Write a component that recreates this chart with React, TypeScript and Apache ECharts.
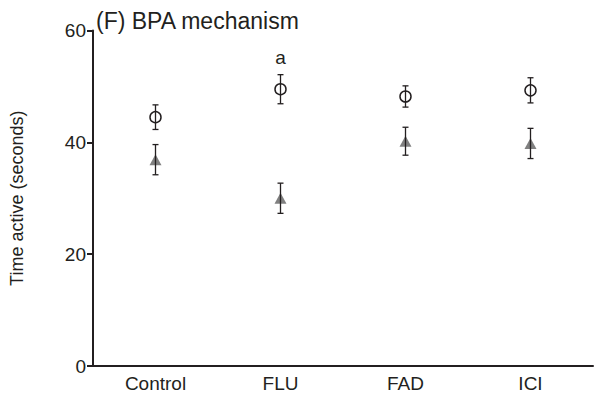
import React, { useEffect, useRef } from "react";
import * as echarts from "echarts";

// Groups on the x axis
const categories = ["Control", "FLU", "FAD", "ICI"];
// Open circles: mean and SEM (seconds)
const circleMean = [44.5, 49.5, 48.2, 49.3];
const circleSem = [2.2, 2.6, 1.9, 2.25];
// Grey triangles: mean and SEM (seconds)
const triangleMean = [36.9, 30.0, 40.2, 39.8];
const triangleSem = [2.7, 2.7, 2.5, 2.7];
// Significance letters above the circle error bars
const significance = ["", "a", "", ""];
// Y axis ticks
const yTicks = [0, 20, 40, 60];

const FONT = '"Liberation Sans", Arial, Helvetica, sans-serif';
const INK = "#231f20";

function errorBarSeries(means: number[], sems: number[], z: number) {
  return {
    type: "custom",
    z,
    silent: true,
    data: means.map((m, i) => [i, m - sems[i], m + sems[i]]),
    renderItem: (_params: any, api: any) => {
      const x = api.value(0);
      const lo = api.coord([x, api.value(1)]);
      const hi = api.coord([x, api.value(2)]);
      const cap = 3;
      const style = { stroke: INK, lineWidth: 1.3 };
      return {
        type: "group",
        children: [
          { type: "line", shape: { x1: lo[0], y1: lo[1], x2: hi[0], y2: hi[1] }, style },
          { type: "line", shape: { x1: lo[0] - cap, y1: lo[1], x2: lo[0] + cap, y2: lo[1] }, style },
          { type: "line", shape: { x1: hi[0] - cap, y1: hi[1], x2: hi[0] + cap, y2: hi[1] }, style },
        ],
      };
    },
  };
}

export default function App() {
  const ref = useRef<HTMLDivElement>(null);

  useEffect(() => {
    if (!ref.current) return;
    const chart = echarts.init(ref.current, null, { renderer: "svg" });
    chart.setOption({
      animation: false,
      backgroundColor: "#ffffff",
      textStyle: { fontFamily: FONT, color: INK },
      title: {
        text: "(F) BPA mechanism",
        left: 96,
        top: 9,
        padding: 0,
        textStyle: { fontFamily: FONT, fontSize: 23, fontWeight: "normal", color: INK },
      },
      grid: { left: 84, right: 5, top: 30.5, bottom: 44, containLabel: false },
      xAxis: {
        type: "category",
        data: categories,
        boundaryGap: true,
        axisLine: { lineStyle: { color: INK, width: 2 } },
        axisTick: { alignWithLabel: true, length: 6, lineStyle: { color: INK, width: 2 } },
        axisLabel: { fontFamily: FONT, fontSize: 19, color: INK, margin: 8 },
        splitLine: { show: false },
      },
      yAxis: {
        type: "value",
        min: yTicks[0],
        max: yTicks[yTicks.length - 1],
        interval: 20,
        name: "Time active (seconds)",
        nameLocation: "middle",
        nameRotate: 90,
        nameGap: 67,
        nameTextStyle: { fontFamily: FONT, fontSize: 18, color: INK },
        axisLine: { show: true, lineStyle: { color: INK, width: 2 } },
        axisTick: { show: true, length: 6, lineStyle: { color: INK, width: 2 } },
        axisLabel: { fontFamily: FONT, fontSize: 19, color: INK, margin: 7 },
        splitLine: { show: false },
      },
      series: [
        {
          type: "scatter",
          z: 2,
          symbol: "triangle",
          symbolSize: [12, 11],
          itemStyle: { color: "#808080", opacity: 1 },
          data: triangleMean.map((v, i) => [i, v]),
        },
        {
          type: "scatter",
          z: 2,
          symbol: "circle",
          symbolSize: 11,
          itemStyle: { color: "rgba(255,255,255,0)", borderColor: INK, borderWidth: 1.5, opacity: 1 },
          data: circleMean.map((v, i) => ({
            value: [i, v],
            label: {
              show: significance[i] !== "",
              formatter: significance[i],
              position: "top",
              distance: 16,
              fontFamily: FONT,
              fontSize: 19,
              color: INK,
            },
          })),
        },
        errorBarSeries(triangleMean, triangleSem, 3),
        errorBarSeries(circleMean, circleSem, 3),
      ],
    });
    return () => chart.dispose();
  }, []);

  return (
    <div
      ref={ref}
      style={{ position: "fixed", left: 0, top: 0, width: 598, height: 410 }}
    />
  );
}
